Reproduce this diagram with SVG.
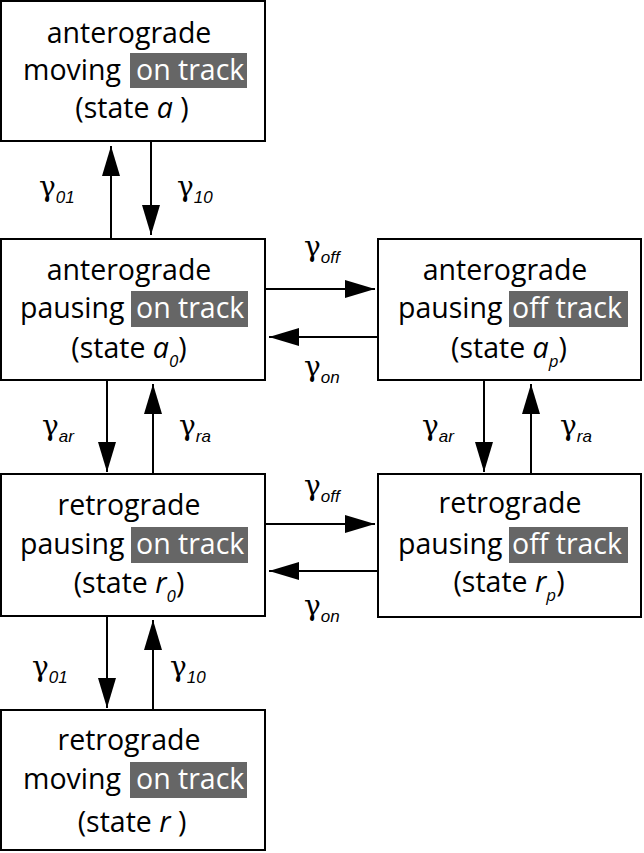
<svg xmlns="http://www.w3.org/2000/svg" width="644" height="853" viewBox="0 0 644 853">
<defs>
<style>
.box{fill:#fff;stroke:#000;stroke-width:2}
.hl{fill:#666}
.t{font-family:"Open Sans","Noto Sans",sans-serif;font-size:28.5px;fill:#000}
.m{text-anchor:middle}
.w{fill:#fff}
.i{font-style:italic}
.s{font-size:17px;font-style:italic}
.g{font-family:"DejaVu Serif",serif;font-size:28px;fill:#000}
.gs{font-family:"Liberation Sans",sans-serif;font-size:17px;font-style:italic}
.c{stroke:#000;stroke-width:2;fill:none;marker-end:url(#ah)}
</style>
<marker id="ah" markerUnits="userSpaceOnUse" markerWidth="30" markerHeight="18" refX="30" refY="9" orient="auto">
<path d="M0,0 L30,9 L0,18 Z" fill="#000"/>
</marker>
</defs>
<rect width="644" height="853" fill="#fff"/>

<g id="connectors">
<line class="c" x1="111" y1="239" x2="111" y2="146"/>
<line class="c" x1="151" y1="141" x2="151" y2="235"/>
<line class="c" x1="265" y1="289" x2="375" y2="289"/>
<line class="c" x1="378" y1="337" x2="269" y2="337"/>
<line class="c" x1="107" y1="380" x2="107" y2="472"/>
<line class="c" x1="153" y1="474" x2="153" y2="384"/>
<line class="c" x1="484" y1="380" x2="484" y2="472"/>
<line class="c" x1="531" y1="474" x2="531" y2="384"/>
<line class="c" x1="265" y1="524" x2="375" y2="524"/>
<line class="c" x1="378" y1="571" x2="269" y2="571"/>
<line class="c" x1="107" y1="616" x2="107" y2="708"/>
<line class="c" x1="153" y1="710" x2="153" y2="620"/>
<text class="g" x="39" y="196">γ<tspan class="gs" dy="7">01</tspan></text>
<text class="g" x="177" y="196">γ<tspan class="gs" dy="7">10</tspan></text>
<text class="g" x="304" y="256">γ<tspan class="gs" dy="7">off</tspan></text>
<text class="g" x="304" y="376">γ<tspan class="gs" dy="7">on</tspan></text>
<text class="g" x="42" y="435">γ<tspan class="gs" dy="7">ar</tspan></text>
<text class="g" x="179" y="435">γ<tspan class="gs" dy="7">ra</tspan></text>
<text class="g" x="422" y="435">γ<tspan class="gs" dy="7">ar</tspan></text>
<text class="g" x="560" y="435">γ<tspan class="gs" dy="7">ra</tspan></text>
<text class="g" x="304" y="495">γ<tspan class="gs" dy="7">off</tspan></text>
<text class="g" x="304" y="615">γ<tspan class="gs" dy="7">on</tspan></text>
<text class="g" x="32" y="676">γ<tspan class="gs" dy="7">01</tspan></text>
<text class="g" x="170" y="676">γ<tspan class="gs" dy="7">10</tspan></text>
</g>

<g id="state-a">
<rect class="box" x="1" y="1" width="264" height="140"/>
<text class="t m" x="129" y="43">anterograde</text>
<text class="t" x="23" y="80">moving</text>
<rect class="hl" x="130" y="53" width="117" height="35"/>
<text class="t w" x="136" y="80">on track</text>
<text class="t m" x="132" y="118">(state <tspan class="i">a</tspan> )</text>
</g>

<g id="state-a0">
<rect class="box" x="1" y="239" width="264" height="141"/>
<text class="t m" x="129" y="280">anterograde</text>
<text class="t" x="20" y="318">pausing</text>
<rect class="hl" x="131" y="291" width="117" height="36"/>
<text class="t w" x="136" y="318">on track</text>
<text class="t m" x="129" y="358">(state <tspan class="i">a</tspan><tspan class="s" dy="9">0</tspan><tspan dy="-9">)</tspan></text>
</g>

<g id="state-ap">
<rect class="box" x="378" y="239" width="263" height="141"/>
<text class="t m" x="505" y="280">anterograde</text>
<text class="t" x="398" y="318">pausing</text>
<rect class="hl" x="509" y="291" width="119" height="36"/>
<text class="t w" x="512" y="318">off track</text>
<text class="t m" x="509" y="358">(state <tspan class="i">a</tspan><tspan class="s" dy="9">p</tspan><tspan dy="-9">)</tspan></text>
</g>

<g id="state-r0">
<rect class="box" x="1" y="474" width="264" height="142"/>
<text class="t m" x="129" y="515">retrograde</text>
<text class="t" x="20" y="554">pausing</text>
<rect class="hl" x="131" y="527" width="117" height="36"/>
<text class="t w" x="136" y="554">on track</text>
<text class="t m" x="129" y="593">(state <tspan class="i">r</tspan><tspan class="s" dy="9">0</tspan><tspan dy="-9">)</tspan></text>
</g>

<g id="state-rp">
<rect class="box" x="378" y="474" width="263" height="143"/>
<text class="t m" x="510" y="513">retrograde</text>
<text class="t" x="398" y="554">pausing</text>
<rect class="hl" x="509" y="527" width="119" height="36"/>
<text class="t w" x="512" y="554">off track</text>
<text class="t m" x="509" y="592">(state <tspan class="i">r</tspan><tspan class="s" dy="9">p</tspan><tspan dy="-9">)</tspan></text>
</g>

<g id="state-r">
<rect class="box" x="1" y="710" width="264" height="140"/>
<text class="t m" x="129" y="750">retrograde</text>
<text class="t" x="23" y="789">moving</text>
<rect class="hl" x="130" y="762" width="117" height="36"/>
<text class="t w" x="136" y="789">on track</text>
<text class="t m" x="132" y="832">(state <tspan class="i">r</tspan> )</text>
</g>
</svg>
